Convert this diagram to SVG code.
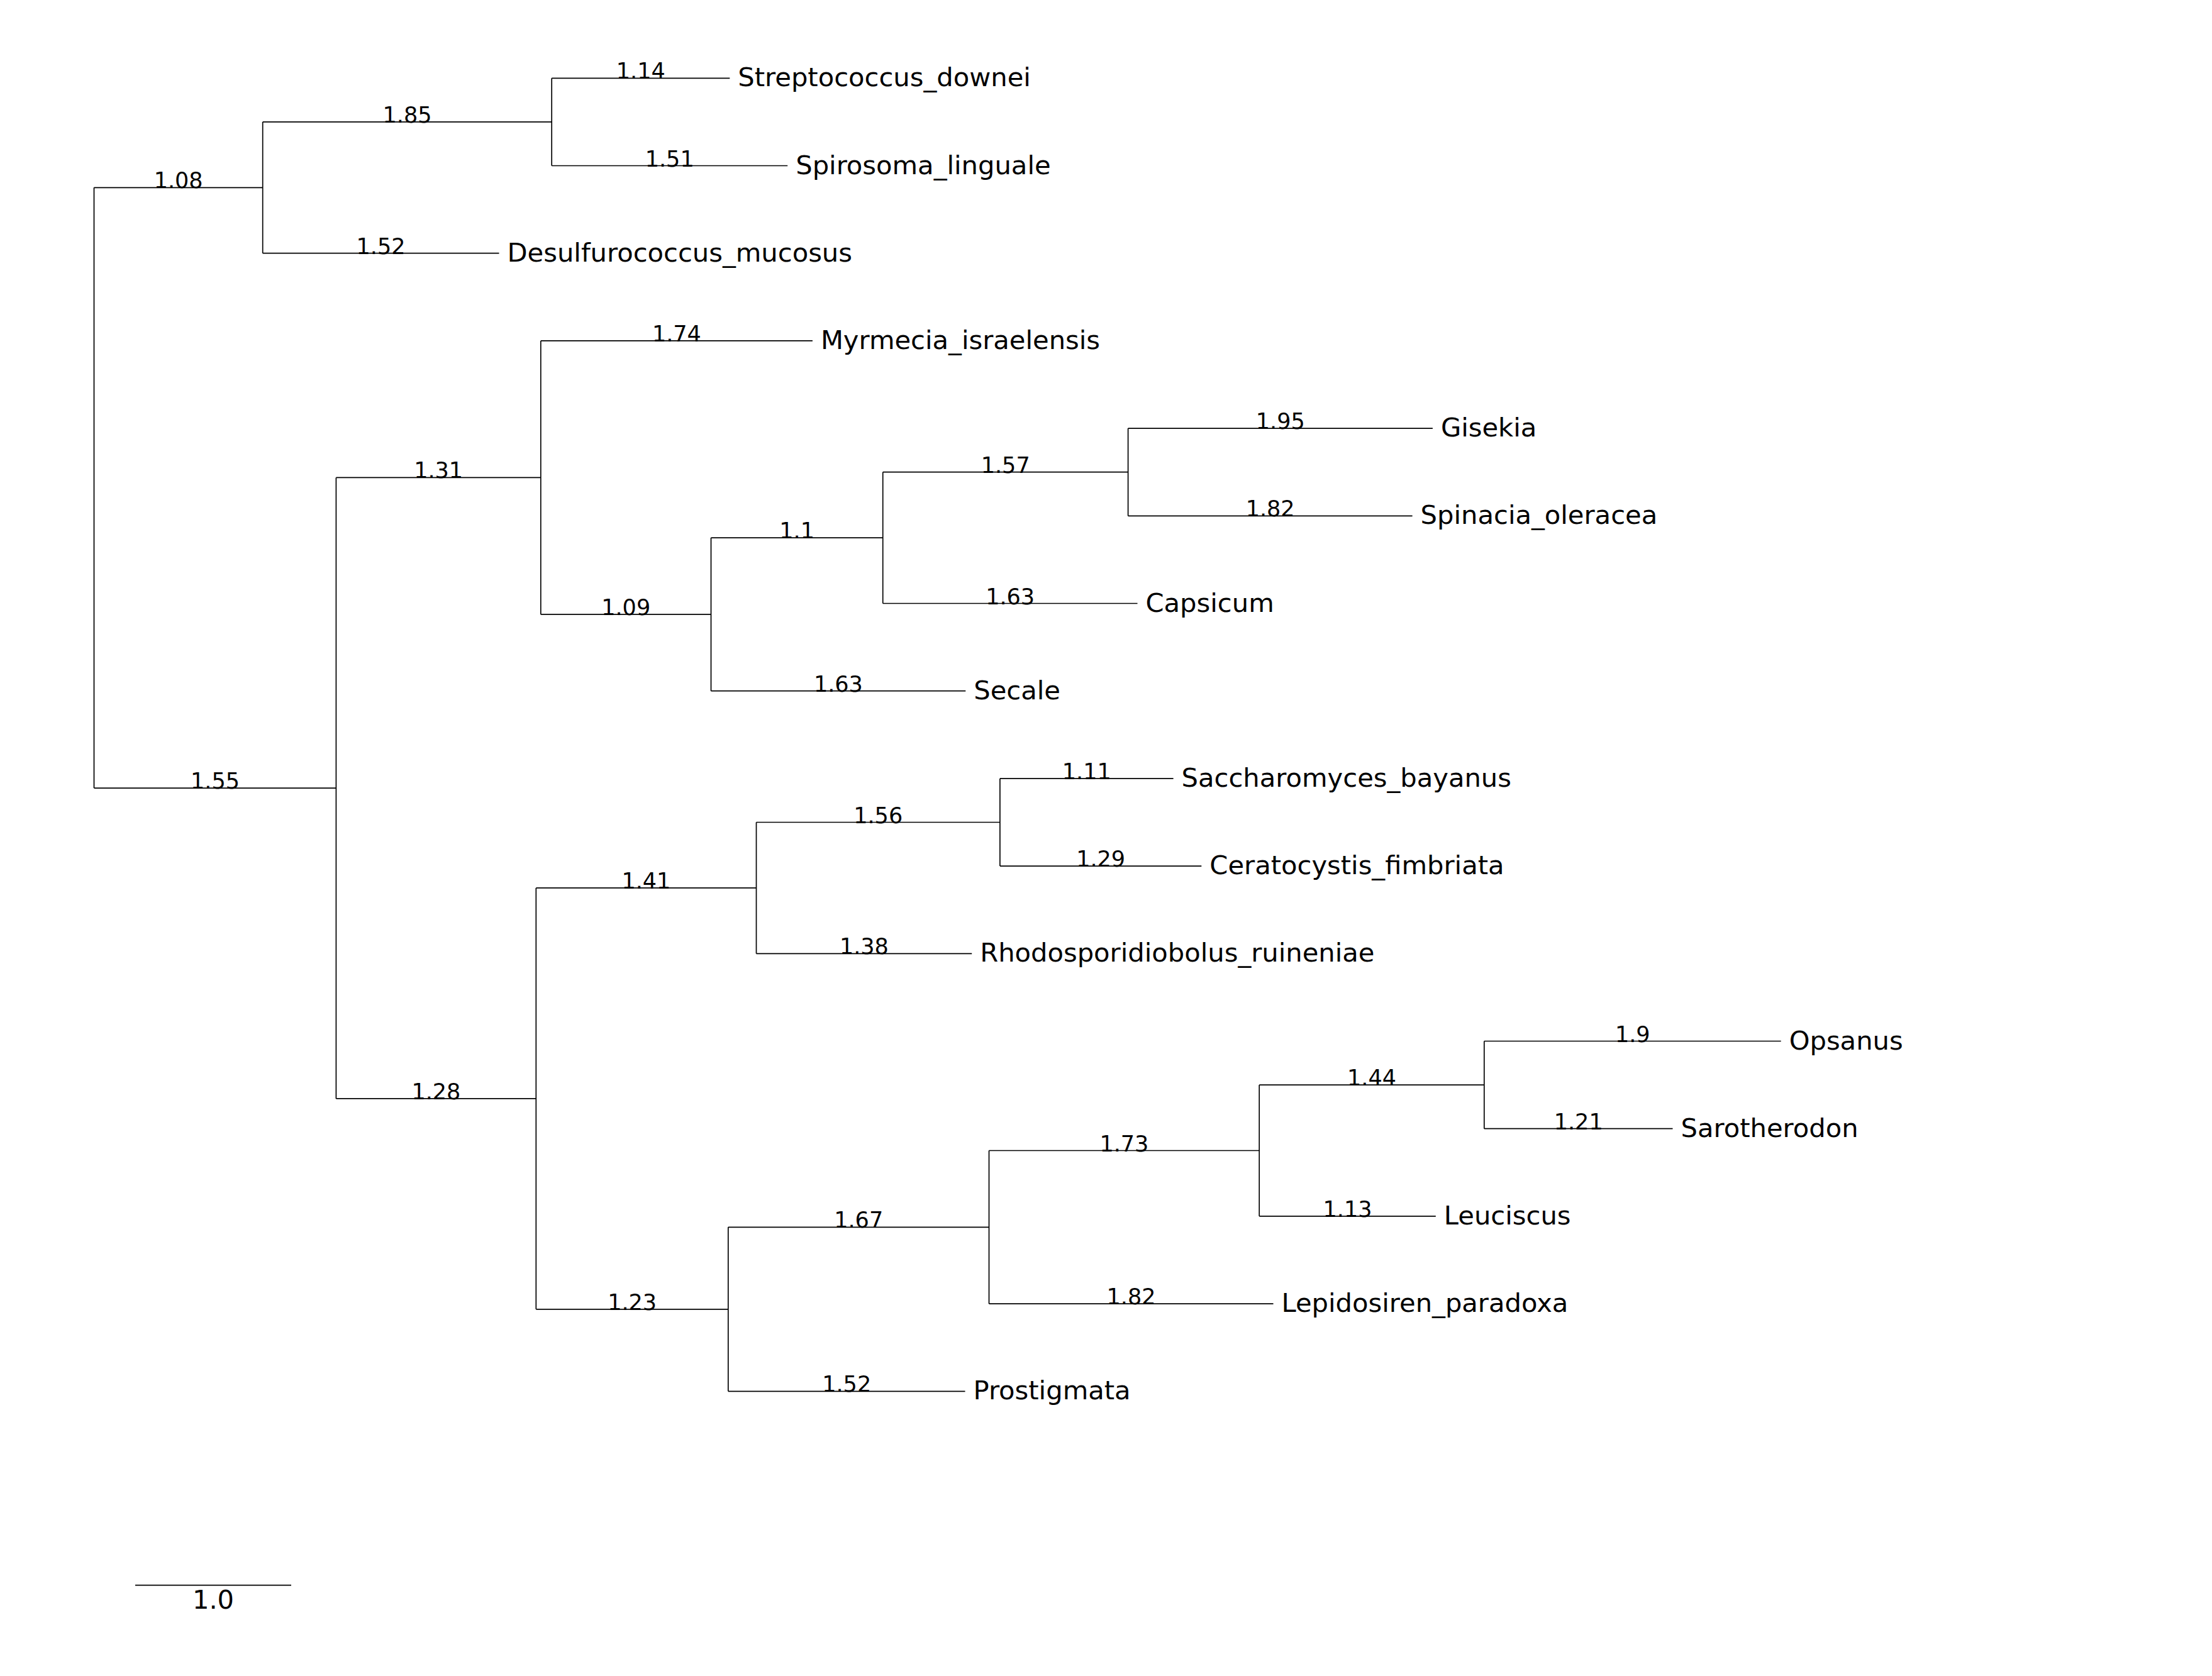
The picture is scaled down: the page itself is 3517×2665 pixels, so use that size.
<svg xmlns="http://www.w3.org/2000/svg" width="3517" height="2665" viewBox="0 0 3517 2665">
<style>
.br{stroke:#000;stroke-width:1.7;fill:none}
.bl{font-family:"DejaVu Sans",sans-serif;font-size:35px;fill:#000;text-anchor:middle}
.lf{font-family:"DejaVu Sans",sans-serif;font-size:41.67px;fill:#000}
</style>
<rect width="3517" height="2665" fill="#fff"/>
<g id="connectors" class="br">
<path d="M149.5 298.3V1253.1"/>
<path d="M417.7 193.9V402.7"/>
<path d="M877.2 124.3V263.5"/>
<path d="M534.4 759.4V1746.9"/>
<path d="M859.8 541.9V976.9"/>
<path d="M1130.5 855.1V1098.7"/>
<path d="M1403.7 750.7V959.5"/>
<path d="M1793.6 681.1V820.3"/>
<path d="M852.3 1411.9V2081.8"/>
<path d="M1202.5 1307.5V1516.3"/>
<path d="M1589.9 1237.9V1377.1"/>
<path d="M1157.8 1951.3V2212.3"/>
<path d="M1572.5 1829.5V2073.1"/>
<path d="M2002.2 1725.1V1933.9"/>
<path d="M2359.8 1655.5V1794.7"/>
<path d="M149.5 298.3H417.7"/>
<path d="M417.7 193.9H877.2"/>
<path d="M877.2 124.3H1160.3"/>
<path d="M877.2 263.5H1252.2"/>
<path d="M417.7 402.7H793.5"/>
<path d="M149.5 1253.1H534.4"/>
<path d="M534.4 759.4H859.8"/>
<path d="M859.8 541.9H1291.9"/>
<path d="M859.8 976.9H1130.5"/>
<path d="M1130.5 855.1H1403.7"/>
<path d="M1403.7 750.7H1793.6"/>
<path d="M1793.6 681.1H2277.9"/>
<path d="M1793.6 820.3H2245.6"/>
<path d="M1403.7 959.5H1808.5"/>
<path d="M1130.5 1098.7H1535.3"/>
<path d="M534.4 1746.9H852.3"/>
<path d="M852.3 1411.9H1202.5"/>
<path d="M1202.5 1307.5H1589.9"/>
<path d="M1589.9 1237.9H1865.6"/>
<path d="M1589.9 1377.1H1910.3"/>
<path d="M1202.5 1516.3H1545.2"/>
<path d="M852.3 2081.8H1157.8"/>
<path d="M1157.8 1951.3H1572.5"/>
<path d="M1572.5 1829.5H2002.2"/>
<path d="M2002.2 1725.1H2359.8"/>
<path d="M2359.8 1655.5H2831.7"/>
<path d="M2359.8 1794.7H2659.5"/>
<path d="M2002.2 1933.9H2282.8"/>
<path d="M1572.5 2073.1H2024.5"/>
<path d="M1157.8 2212.3H1534.5"/>
</g>
<g id="branch-labels" class="bl">
<text x="283.6" y="299.3">1.08</text>
<text x="647.5" y="194.9">1.85</text>
<text x="1018.8" y="125.3">1.14</text>
<text x="1064.7" y="264.5">1.51</text>
<text x="605.5" y="403.7">1.52</text>
<text x="342.0" y="1254.1">1.55</text>
<text x="697.1" y="760.4">1.31</text>
<text x="1075.9" y="542.9">1.74</text>
<text x="995.2" y="977.9">1.09</text>
<text x="1267.1" y="856.1">1.1</text>
<text x="1598.7" y="751.7">1.57</text>
<text x="2035.8" y="682.1">1.95</text>
<text x="2019.6" y="821.3">1.82</text>
<text x="1606.1" y="960.5">1.63</text>
<text x="1332.9" y="1099.7">1.63</text>
<text x="693.4" y="1747.9">1.28</text>
<text x="1027.4" y="1412.9">1.41</text>
<text x="1396.2" y="1308.5">1.56</text>
<text x="1727.8" y="1238.9">1.11</text>
<text x="1750.1" y="1378.1">1.29</text>
<text x="1373.9" y="1517.3">1.38</text>
<text x="1005.1" y="2082.8">1.23</text>
<text x="1365.2" y="1952.3">1.67</text>
<text x="1787.4" y="1830.5">1.73</text>
<text x="2181.0" y="1726.1">1.44</text>
<text x="2595.8" y="1656.5">1.9</text>
<text x="2509.7" y="1795.7">1.21</text>
<text x="2142.5" y="1934.9">1.13</text>
<text x="1798.5" y="2074.1">1.82</text>
<text x="1346.2" y="2213.3">1.52</text>
</g>
<g id="leaf-Streptococcus_downei" class="lf"><text x="1173.3" y="137.3">Streptococcus_downei</text></g>
<g id="leaf-Spirosoma_linguale" class="lf"><text x="1265.2" y="276.5">Spirosoma_linguale</text></g>
<g id="leaf-Desulfurococcus_mucosus" class="lf"><text x="806.5" y="415.7">Desulfurococcus_mucosus</text></g>
<g id="leaf-Myrmecia_israelensis" class="lf"><text x="1304.9" y="554.9">Myrmecia_israelensis</text></g>
<g id="leaf-Gisekia" class="lf"><text x="2290.9" y="694.1">Gisekia</text></g>
<g id="leaf-Spinacia_oleracea" class="lf"><text x="2258.6" y="833.3">Spinacia_oleracea</text></g>
<g id="leaf-Capsicum" class="lf"><text x="1821.5" y="972.5">Capsicum</text></g>
<g id="leaf-Secale" class="lf"><text x="1548.3" y="1111.7">Secale</text></g>
<g id="leaf-Saccharomyces_bayanus" class="lf"><text x="1878.6" y="1250.9">Saccharomyces_bayanus</text></g>
<g id="leaf-Ceratocystis_fimbriata" class="lf"><text x="1923.3" y="1390.1">Ceratocystis_fimbriata</text></g>
<g id="leaf-Rhodosporidiobolus_ruineniae" class="lf"><text x="1558.2" y="1529.3">Rhodosporidiobolus_ruineniae</text></g>
<g id="leaf-Opsanus" class="lf"><text x="2844.7" y="1668.5">Opsanus</text></g>
<g id="leaf-Sarotherodon" class="lf"><text x="2672.5" y="1807.7">Sarotherodon</text></g>
<g id="leaf-Leuciscus" class="lf"><text x="2295.8" y="1946.9">Leuciscus</text></g>
<g id="leaf-Lepidosiren_paradoxa" class="lf"><text x="2037.5" y="2086.1">Lepidosiren_paradoxa</text></g>
<g id="leaf-Prostigmata" class="lf"><text x="1547.5" y="2225.3">Prostigmata</text></g>
<g id="scale-bar">
<path class="br" d="M215 2520.7H463"/>
<text class="lf" x="339" y="2558" text-anchor="middle">1.0</text>
</g>
</svg>
